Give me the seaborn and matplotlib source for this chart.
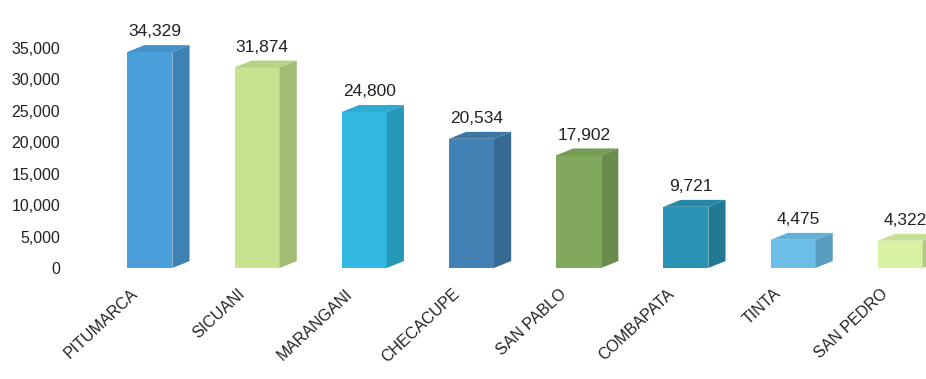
import matplotlib
matplotlib.use("Agg")
import matplotlib.pyplot as plt
import matplotlib.transforms as mtransforms
import seaborn as sns
import pandas as pd
from matplotlib.patches import Polygon
from matplotlib.colors import to_rgb
from matplotlib.ticker import FuncFormatter

districts = ["PITUMARCA", "SICUANI", "MARANGANI", "CHECACUPE",
             "SAN PABLO", "COMBAPATA", "TINTA", "SAN PEDRO"]
population = [34329, 31874, 24800, 20534, 17902, 9721, 4475, 4322]
bar_colors = ["#4a9ed9", "#c6e48f", "#31b9e2", "#4281b4",
              "#80a95c", "#2a93b5", "#6dbfea", "#d9f1a3"]

df = pd.DataFrame({"district": districts, "population": population})

sns.set_style("white")
plt.rcParams["font.family"] = ["Liberation Sans Narrow", "Liberation Sans", "DejaVu Sans"]

fig = plt.figure(figsize=(9.26, 3.79), dpi=100)
ax = fig.add_axes([0.104, 0.293, 0.896, 0.707])

sns.barplot(data=df, x="district", y="population", hue="district",
            palette=bar_colors, width=0.42, legend=False, ax=ax,
            saturation=1, edgecolor="none")

# depth of the 3-D extrusion in data units
depth_x = 0.16
depth_y = 1100


def shade(c, f):
    r, g, b = to_rgb(c)
    return (r * f, g * f, b * f)


for patch, val, col in zip(ax.patches, population, bar_colors):
    x0 = patch.get_x()
    w = patch.get_width()
    h = patch.get_height()
    x1 = x0 + w
    side = Polygon([(x1, 0), (x1 + depth_x, depth_y), (x1 + depth_x, h + depth_y), (x1, h)],
                   closed=True, facecolor=shade(col, 0.82), edgecolor="none", zorder=2)
    top = Polygon([(x0, h), (x0 + depth_x, h + depth_y), (x1 + depth_x, h + depth_y), (x1, h)],
                  closed=True, facecolor=shade(col, 0.92), edgecolor="none", zorder=2)
    ax.add_patch(side)
    ax.add_patch(top)
    ax.text(x0 + w / 2 + depth_x * 0.3, h + depth_y + 900, f"{val:,}",
            ha="center", va="bottom", fontsize=12.5, color="#222222")

ax.set_ylim(0, 42600)
ax.set_xlim(-0.5, 7.24)
ax.set_yticks(range(0, 35001, 5000))
ax.yaxis.set_major_formatter(FuncFormatter(lambda v, p: f"{int(v):,}"))
ax.tick_params(axis="y", length=0, pad=26, labelsize=11.5, labelcolor="#222222")
ax.tick_params(axis="x", length=0, pad=4, labelsize=11.5, labelcolor="#222222")
shift = mtransforms.ScaledTranslation(-14 / 72, -9 / 72, fig.dpi_scale_trans)
for lbl in ax.get_xticklabels():
    lbl.set_rotation(43)
    lbl.set_ha("right")
    lbl.set_rotation_mode("anchor")
    lbl.set_transform(lbl.get_transform() + shift)
ax.set_xlabel("")
ax.set_ylabel("")
sns.despine(ax=ax, left=True, bottom=True)

fig.savefig("out.png", dpi=100, facecolor="white")
